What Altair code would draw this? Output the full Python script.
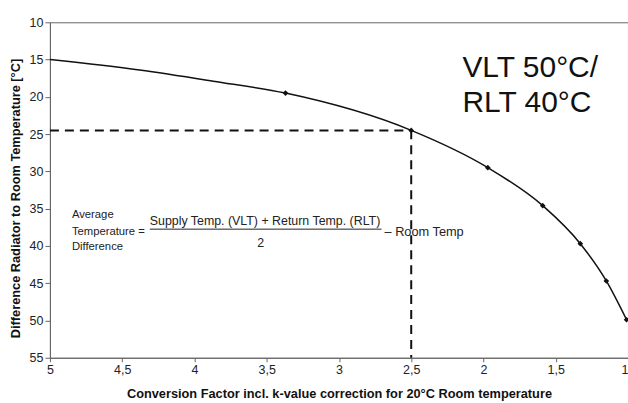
import altair as alt
import pandas as pd

# Curve (conversion factor vs temperature difference)
curve_x = [5.0, 4.38, 3.87, 3.37, 2.50, 1.97, 1.59, 1.33, 1.15, 1.01]
curve_y = [15.0, 16.4, 17.9, 19.5, 24.5, 29.5, 34.6, 39.7, 44.7, 49.9]
marker_idx = [3, 4, 5, 6, 7, 8, 9]

x_ticks = [5, 4.5, 4, 3.5, 3, 2.5, 2, 1.5, 1]
y_ticks = [10, 15, 20, 25, 30, 35, 40, 45, 50, 55]

ref_x = 2.5
ref_y = 24.5

curve = pd.DataFrame({"x": curve_x, "y": curve_y})
markers = pd.DataFrame({"x": [curve_x[i] for i in marker_idx],
                        "y": [curve_y[i] for i in marker_idx]})

FONT = "Liberation Sans"

xscale = alt.Scale(domain=[1, 5], reverse=True, nice=False, zero=False)
yscale = alt.Scale(domain=[10, 55], reverse=True, nice=False, zero=False)

xaxis = alt.Axis(values=x_ticks,
                 labelExpr="replace(format(datum.value, '.1~f'), '.', ',')",
                 labelAlign={"condition": {"test": "datum.value == 1", "value": "right"}, "value": "center"},
                 title="Conversion Factor incl. k-value correction for 20°C Room temperature",
                 tickSize=4, titlePadding=11)
yaxis = alt.Axis(values=y_ticks, title="Difference Radiator to Room Temperature [°C]",
                 tickSize=5, titlePadding=7, titleY=176)

X = alt.X("x:Q", scale=xscale, axis=xaxis)
Y = alt.Y("y:Q", scale=yscale, axis=yaxis)

line = alt.Chart(curve).mark_line(color="#111", strokeWidth=1.5, interpolate="monotone").encode(x=X, y=Y)
pts = alt.Chart(markers).mark_point(shape="diamond", filled=True, color="#111", size=32, opacity=1).encode(x=X, y=Y)

hdash = alt.Chart(pd.DataFrame({"x": [5.0], "x2": [ref_x], "y": [ref_y]})).mark_rule(
    color="#111", strokeWidth=2, strokeDash=[9, 6]).encode(x=X, x2="x2:Q", y=Y)
vdash = alt.Chart(pd.DataFrame({"x": [ref_x], "y": [ref_y], "y2": [55.0]})).mark_rule(
    color="#111", strokeWidth=2, strokeDash=[9, 6]).encode(x=X, y=Y, y2="y2:Q")

# Big label
big = pd.DataFrame({"x": [2.146, 2.146], "y": [17.3, 22.1], "t": ["VLT 50°C/", "RLT 40°C"]})
big_text = alt.Chart(big).mark_text(align="left", baseline="alphabetic", fontSize=30,
                                    font=FONT, color="#111").encode(x=X, y=Y, text="t:N")

left_lbl = pd.DataFrame({"x": [4.848, 4.848, 4.848], "y": [35.9, 38.1, 40.1],
                         "t": ["Average", "Temperature =", "Difference"]})
left_text = alt.Chart(left_lbl).mark_text(align="left", baseline="middle", fontSize=11.3,
                                          font=FONT, color="#222").encode(x=X, y=Y, text="t:N")

num = pd.DataFrame({"x": [4.309], "y": [36.6], "t": ["Supply Temp. (VLT) + Return Temp. (RLT)"]})
num_text = alt.Chart(num).mark_text(align="left", baseline="middle", fontSize=12.4,
                                    font=FONT, color="#222").encode(x=X, y=Y, text="t:N")
den = pd.DataFrame({"x": [3.542], "y": [39.6], "t": ["2"]})
den_text = alt.Chart(den).mark_text(align="center", baseline="middle", fontSize=12.4,
                                    font=FONT, color="#222").encode(x=X, y=Y, text="t:N")
frac = alt.Chart(pd.DataFrame({"x": [4.309], "x2": [2.706], "y": [37.75]})).mark_rule(
    color="#222", strokeWidth=1).encode(x=X, x2="x2:Q", y=Y)
room = pd.DataFrame({"x": [2.685], "y": [38.1], "t": ["– Room Temp"]})
room_text = alt.Chart(room).mark_text(align="left", baseline="middle", fontSize=12.8,
                                      font=FONT, color="#222").encode(x=X, y=Y, text="t:N")

chart = alt.layer(line, hdash, vdash, pts, big_text, left_text, num_text, den_text, frac, room_text).properties(
    width=579, height=336,
    autosize=alt.AutoSizeParams(type="none"),
    padding={"left": 50, "top": 22, "right": 0, "bottom": 45},
    background="white",
).configure_view(stroke="#666", strokeWidth=1).configure_axis(
    grid=False, labelFontSize=12.5, labelPadding=2, labelOverlap=False, labelFlush=False,
    titleFontSize=12.8, titleFontWeight="bold", domainColor="#666", tickColor="#666",
    labelColor="#222", titleColor="#111", labelFont=FONT, titleFont=FONT)

chart.save("out.html", embed_options={"renderer": "svg", "actions": False})
